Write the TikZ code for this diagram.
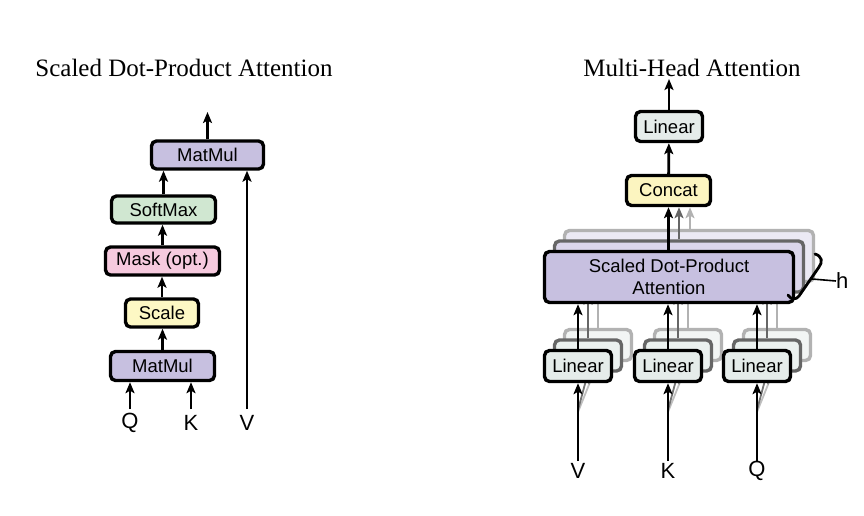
\documentclass[tikz,border=0pt]{standalone}
\usepackage{fontspec}
\setmainfont{Liberation Serif}
\newfontfamily\boxfont{Liberation Sans}
\usetikzlibrary{arrows.meta,positioning}

\definecolor{matmulc}{RGB}{199,192,224}
\definecolor{softmaxc}{RGB}{208,231,209}
\definecolor{maskc}{RGB}{246,202,222}
\definecolor{scalec}{RGB}{253,248,196}
\definecolor{linearc}{RGB}{229,236,234}
\definecolor{concatc}{RGB}{252,245,192}

\tikzset{
  blk/.style={draw, line width=3.4pt, rounded corners=5pt, inner sep=0pt,
    font=\boxfont\fontsize{18.5}{22}\selectfont, align=center},
  arr/.style={-{Stealth[length=11pt,width=9pt,inset=2.5pt]}, line width=2.8pt},
  lbl/.style={font=\boxfont\fontsize{22}{24}\selectfont, inner sep=0pt},
  ttl/.style={font=\fontsize{25}{28}\selectfont, inner sep=0pt},
  shadowA/.style={draw=black!60, fill=#1},
  shadowB/.style={draw=black!30, fill=#1},
}

\begin{document}
\begin{tikzpicture}[x=1pt,y=-1pt]
\useasboundingbox (0,0) rectangle (864,515);
% ---- left: scaled dot-product attention ----
\begin{scope}
  \node[ttl] (t1) at (184,68) {Scaled Dot-Product Attention};
  \node[blk,fill=matmulc,minimum width=112pt,minimum height=28pt] (mm2) at (207.5,155) {MatMul};
  \node[blk,fill=softmaxc,minimum width=104pt,minimum height=27pt] (sm) at (163.5,209.5) {SoftMax};
  \node[blk,fill=maskc,minimum width=114pt,minimum height=28pt] (mask) at (162.5,261) {Mask (opt.)};
  \node[blk,fill=scalec,minimum width=73pt,minimum height=28pt] (scale) at (162,313) {Scale};
  \node[blk,fill=matmulc,minimum width=104pt,minimum height=29pt] (mm1) at (162.5,366) {MatMul};
  \coordinate (out1) at (207.5,112);
  \coordinate (q1) at (130,409);
  \coordinate (k1) at (191,409);
  \coordinate (v1) at (247,409);
  \node[lbl] (lq1) at (130,423) {Q};
  \node[lbl] (lk1) at (191,423) {K};
  \node[lbl] (lv1) at (247,423) {V};
  \draw[arr] (mm2) -- (out1);
  \draw[arr] (sm.north) -- (sm.north |- mm2.south);
  \draw[arr] (mask.north) -- (mask.north |- sm.south);
  \draw[arr] (scale.north) -- (scale.north |- mask.south);
  \draw[arr] (mm1.north) -- (mm1.north |- scale.south);
  \draw[arr] (q1) -- (q1 |- mm1.south);
  \draw[arr] (k1) -- (k1 |- mm1.south);
  \draw[arr] (v1) -- (v1 |- mm2.south);
\end{scope}
% ---- right: multi-head attention ----
\node[ttl] (t2) at (692,68) {Multi-Head Attention};
% back copy of the heads
\begin{scope}[xshift=20pt,yshift=21pt]
  \node[blk,shadowB=matmulc!35,minimum width=249pt,minimum height=51pt] (sd3) at (669,277) {};
  \node[blk,shadowB=linearc!50,minimum width=67pt,minimum height=31pt] (lv3) at (578,366) {};
  \node[blk,shadowB=linearc!50,minimum width=67pt,minimum height=31pt] (lk3) at (668,366) {};
  \node[blk,shadowB=linearc!50,minimum width=67pt,minimum height=31pt] (lq3) at (757,366) {};
  \draw[arr,black!30] (lv3) -- (lv3 |- sd3.south);
  \draw[arr,black!30] (lk3) -- (lk3 |- sd3.south);
  \draw[arr,black!30] (lq3) -- (lq3 |- sd3.south);
\end{scope}
\draw[arr,black!25,line width=1.8pt] (578,412) -- (lv3.south);
\draw[arr,black!25,line width=1.8pt] (668,412) -- (lk3.south);
\draw[arr,black!25,line width=1.8pt] (757,412) -- (lq3.south);
% middle copy of the heads
\begin{scope}[xshift=10pt,yshift=10.5pt]
  \node[blk,shadowA=matmulc!65,minimum width=249pt,minimum height=51pt] (sd2) at (669,277) {};
  \node[blk,shadowA=linearc!75,minimum width=67pt,minimum height=31pt] (lv2) at (578,366) {};
  \node[blk,shadowA=linearc!75,minimum width=67pt,minimum height=31pt] (lk2) at (668,366) {};
  \node[blk,shadowA=linearc!75,minimum width=67pt,minimum height=31pt] (lq2) at (757,366) {};
  \draw[arr,black!60] (lv2) -- (lv2 |- sd2.south);
  \draw[arr,black!60] (lk2) -- (lk2 |- sd2.south);
  \draw[arr,black!60] (lq2) -- (lq2 |- sd2.south);
\end{scope}
\draw[arr,black!55,line width=1.8pt] (578,410) -- (lv2.south);
\draw[arr,black!55,line width=1.8pt] (668,410) -- (lk2.south);
\draw[arr,black!55,line width=1.8pt] (757,410) -- (lq2.south);
% front head
\node[blk,fill=matmulc,minimum width=249pt,minimum height=51pt] (sd1) at (669,277) {Scaled Dot-Product\\Attention};
\node[blk,fill=linearc,minimum width=67pt,minimum height=31pt] (lv1) at (578,366) {Linear};
\node[blk,fill=linearc,minimum width=67pt,minimum height=31pt] (lk1) at (668,366) {Linear};
\node[blk,fill=linearc,minimum width=67pt,minimum height=31pt] (lq1) at (757,366) {Linear};
\node[blk,fill=concatc,minimum width=84pt,minimum height=30pt] (cc) at (668.5,190.5) {Concat};
\node[blk,fill=linearc,minimum width=67pt,minimum height=30pt] (lo) at (669,126.5) {Linear};
\coordinate (out2) at (669,79);
\coordinate (v2) at (578,461);
\coordinate (k2) at (668,461);
\coordinate (q2) at (757,461);
\node[lbl] (lv2l) at (578,471) {V};
\node[lbl] (lk2l) at (668,471) {K};
\node[lbl] (lq2l) at (757,471) {Q};
\draw[arr] (v2) -- (lv1);
\draw[arr] (k2) -- (lk1);
\draw[arr] (q2) -- (lq1);
\draw[arr] (lv1) -- (lv1 |- sd1.south);
\draw[arr] (lk1) -- (lk1 |- sd1.south);
\draw[arr] (lq1) -- (lq1 |- sd1.south);
\draw[arr] (sd1.north -| cc) -- (cc);
\draw[arr,black!60] (sd2.north -| 679,0) -- (679,0 |- cc.south);
\draw[arr,black!30] (sd3.north -| 690,0) -- (690,0 |- cc.south);
\draw[arr] (cc) -- (lo);
\draw[arr] (lo) -- (out2);
% h brace
\coordinate (hb) at (812,279);
\node[lbl,anchor=west] (hl) at (836,281) {h};
\draw[line width=2.8pt,line cap=round] (815,254) .. controls (822,256) and (823,262) .. (819,267)
  -- (799,296) .. controls (796,300) and (791,300) .. (788,295);
\draw[line width=1.6pt] (hb) -- (hl.west);
\end{tikzpicture}
\end{document}
